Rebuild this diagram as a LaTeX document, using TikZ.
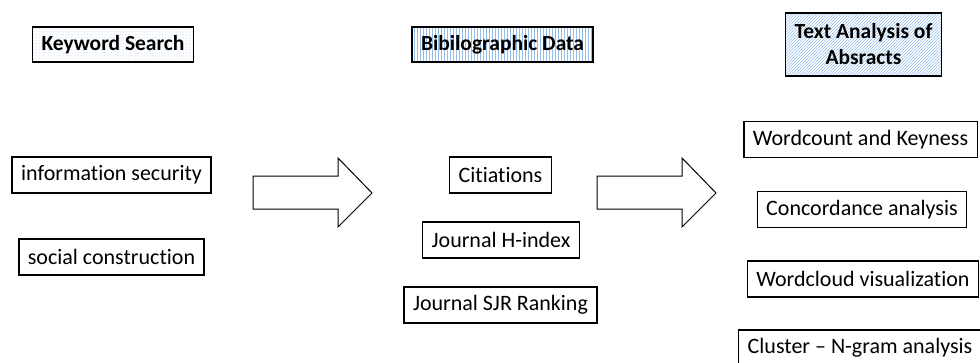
\documentclass[tikz,border=0pt]{standalone}
\usepackage{fontspec}
\setmainfont[Ligatures=NoCommon]{Carlito}
\usetikzlibrary{patterns}
\definecolor{hatchblue}{RGB}{150,190,235}
\tikzset{
    itembox/.style={draw,line width=1.3pt,inner xsep=9pt,inner ysep=2pt,
        minimum height=36pt,font=\fontsize{22}{26}\selectfont},
    headbox/.style={itembox,minimum height=35pt,
        font=\fontsize{21.5}{26}\selectfont\bfseries},
    dotbox/.style={headbox,pattern=dots,pattern color=hatchblue},
    stripebox/.style={headbox,pattern=vertical lines,pattern color=hatchblue},
    hatchbox/.style={headbox,align=center,minimum height=63pt,
        pattern=north east lines,pattern color=hatchblue},
    blockarrow/.style={draw,line width=1pt,line join=miter}
}

\begin{document}
\begin{tikzpicture}[x=1pt,y=-1pt]
    \useasboundingbox (0,0) rectangle (980,362);
    % Headers
    \node[dotbox] (kwsearch) at (113,44.5) {Keyword Search};
    \node[stripebox] (bibdata) at (502.5,44.5) {Bibilographic Data};
    \node[hatchbox] (textan) at (863.5,44.5) {Text Analysis of\\Absracts};
    % Keywords
    \node[itembox] (infosec) at (111.5,175) {information security};
    \node[itembox] (socialc) at (111.5,257) {social construction};
    % Bibliographic measures
    \node[itembox] (citations) at (500.5,175) {Citiations};
    \node[itembox] (hindex) at (501,240) {Journal H-index};
    \node[itembox] (sjrrank) at (500.5,305) {Journal SJR Ranking};
    % Text analysis steps
    \node[itembox] (keyness) at (860.5,139.5) {Wordcount and Keyness};
    \node[itembox] (concord) at (862,209.5) {Concordance analysis};
    \node[itembox] (wordcloud) at (863,279) {Wordcloud visualization};
    \node[itembox] (ngram) at (860,348) {Cluster -- N-gram analysis};
    % Block arrows
    \draw[blockarrow] (253,176) -- (338,176) -- (338,158) -- (372,193)
        -- (338,227) -- (338,209) -- (253,209) -- cycle;
    \draw[blockarrow] (597,176) -- (682,176) -- (682,158) -- (716,193)
        -- (682,227) -- (682,209) -- (597,209) -- cycle;
\end{tikzpicture}
\end{document}
